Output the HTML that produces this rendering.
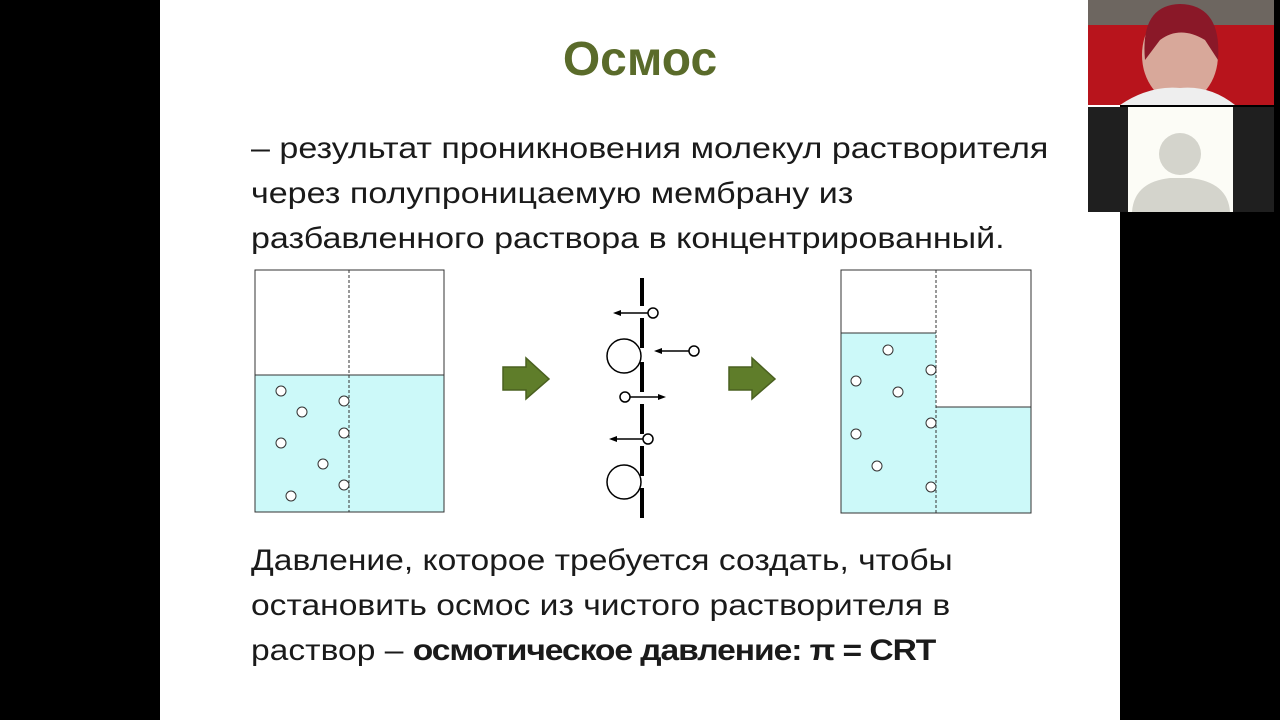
<!DOCTYPE html>
<html><head><meta charset="utf-8"><style>
body{margin:0;width:1280px;height:720px;background:#000;position:relative;overflow:hidden;font-family:"Liberation Sans","DejaVu Sans",sans-serif}
.slide{position:absolute;left:160px;top:0;width:960px;height:720px;background:#fff}
.t{position:absolute;white-space:nowrap;color:#1a1a1a;font-size:30px;transform-origin:0 0}
</style></head><body>
<div class="slide"></div>
<div class="t" style="left:0;width:1280px;text-align:center;top:32px;font-size:48px;font-weight:bold;color:#5a6b2a">Осмос</div>
<div class="t" style="left:251px;top:126px;line-height:45px;transform:scaleX(1.135)">– результат проникновения молекул растворителя<br>через полупроницаемую мембрану из<br>разбавленного раствора в концентрированный.</div>
<div class="t" style="left:251px;top:538px;line-height:45px;transform:scaleX(1.12)">Давление, которое требуется создать, чтобы<br>остановить осмос из чистого растворителя в<br>раствор – <b style="letter-spacing:-0.95px">осмотическое давление: π = CRT</b></div>
<svg style="position:absolute;left:0;top:0" width="1280" height="720">
<g stroke="#333" stroke-width="1" fill="none">
<rect x="255" y="375" width="189" height="137" fill="#ccf9f9" stroke="none"/>
<rect x="255" y="270" width="189" height="242"/>
<line x1="255" y1="375" x2="444" y2="375"/>
<line x1="349" y1="270" x2="349" y2="512" stroke-dasharray="3,2"/>
<g fill="#fff"><circle cx="281" cy="391" r="5"/><circle cx="302" cy="412" r="5"/><circle cx="344" cy="401" r="5"/><circle cx="281" cy="443" r="5"/><circle cx="344" cy="433" r="5"/><circle cx="323" cy="464" r="5"/><circle cx="344" cy="485" r="5"/><circle cx="291" cy="496" r="5"/></g>
<rect x="841" y="333" width="95" height="180" fill="#ccf9f9" stroke="none"/>
<rect x="936" y="407" width="95" height="106" fill="#ccf9f9" stroke="none"/>
<rect x="841" y="270" width="190" height="243"/>
<line x1="841" y1="333" x2="936" y2="333"/><line x1="936" y1="407" x2="1031" y2="407"/>
<line x1="936" y1="270" x2="936" y2="513" stroke-dasharray="3,2"/>
<g fill="#fff"><circle cx="888" cy="350" r="5"/><circle cx="856" cy="381" r="5"/><circle cx="898" cy="392" r="5"/><circle cx="931" cy="370" r="5"/><circle cx="856" cy="434" r="5"/><circle cx="931" cy="423" r="5"/><circle cx="877" cy="466" r="5"/><circle cx="931" cy="487" r="5"/></g>
</g>
<g stroke="#000" stroke-width="4"><line x1="642" y1="278" x2="642" y2="306"/><line x1="642" y1="318" x2="642" y2="348"/><line x1="642" y1="362" x2="642" y2="392"/><line x1="642" y1="404" x2="642" y2="434"/><line x1="642" y1="446" x2="642" y2="476"/><line x1="642" y1="488" x2="642" y2="518"/></g>
<g stroke="#000" stroke-width="1.5" fill="#fff">
<circle cx="624" cy="356" r="17"/><circle cx="624" cy="482" r="17"/>
<line x1="618" y1="313" x2="648" y2="313"/><line x1="658" y1="351" x2="690" y2="351"/><line x1="630" y1="397" x2="662" y2="397"/><line x1="614" y1="439" x2="644" y2="439"/>
<circle cx="653" cy="313" r="5"/><circle cx="694" cy="351" r="5"/><circle cx="625" cy="397" r="5"/><circle cx="648" cy="439" r="5"/>
</g>
<g fill="#000"><polygon points="613,313 621,310 621,316"/><polygon points="654,351 662,348 662,354"/><polygon points="666,397 658,394 658,400"/><polygon points="609,439 617,436 617,442"/></g>
<g fill="#5f7d2a" stroke="#4a6020" stroke-width="1.5"><polygon points="503,367 526,367 526,358 549,379 526,399 526,390 503,390"/><polygon points="729,367 752,367 752,358 775,379 752,399 752,390 729,390"/></g>
<rect x="1088" y="0" width="186" height="105" fill="#b8141c"/>
<rect x="1088" y="0" width="186" height="25" fill="#6d6660"/>
<ellipse cx="1180" cy="55" rx="38" ry="48" fill="#d8a89a"/>
<path d="M1145 60 Q1140 5 1180 4 Q1222 5 1218 60 L1205 40 Q1180 25 1160 40Z" fill="#8a1828"/>
<path d="M1120 105 Q1150 85 1180 88 Q1210 85 1235 105Z" fill="#eee"/>
<rect x="1088" y="107" width="186" height="105" fill="#1f1f1f"/>
<rect x="1128" y="107" width="105" height="105" fill="#fcfcf6"/>
<circle cx="1180" cy="154" r="21" fill="#d4d4cc"/>
<path d="M1132 212 Q1134 182 1170 178 L1190 178 Q1228 182 1230 212Z" fill="#d4d4cc"/>
</svg>
</body></html>
